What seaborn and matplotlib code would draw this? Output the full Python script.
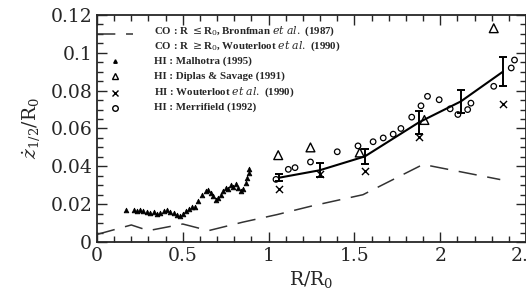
import numpy as np
import pandas as pd
import seaborn as sns
import matplotlib.pyplot as plt
from matplotlib.ticker import MultipleLocator

# CO dashed curve (Bronfman R<=R0 + Wouterloot R>=R0)
co_r = [0.0, 0.2, 0.3, 0.5, 0.65, 0.85, 1.05, 1.25, 1.55, 1.9, 2.35]
co_z = [0.004, 0.009, 0.006, 0.0095, 0.006, 0.0105, 0.0145, 0.019, 0.025, 0.041, 0.033]

# HI : Malhotra (1995)
mal_r = [0.170, 0.213, 0.232, 0.252, 0.271, 0.291, 0.310, 0.330, 0.350, 0.369,
         0.388, 0.408, 0.428, 0.447, 0.467, 0.486, 0.502, 0.516, 0.535, 0.555,
         0.574, 0.590, 0.613, 0.633, 0.646, 0.662, 0.678, 0.691, 0.705, 0.720,
         0.736, 0.750, 0.763, 0.779, 0.795, 0.808, 0.822, 0.838, 0.853, 0.867,
         0.877, 0.883, 0.887]
mal_z = [0.0171, 0.0167, 0.0162, 0.0171, 0.0165, 0.0158, 0.0153, 0.0156, 0.0148, 0.0153,
         0.0162, 0.0167, 0.0160, 0.0153, 0.0144, 0.0135, 0.0149, 0.0162, 0.0174, 0.0185,
         0.0185, 0.0218, 0.0250, 0.0268, 0.0277, 0.0260, 0.0242, 0.0224, 0.0234, 0.0250,
         0.0268, 0.0286, 0.0280, 0.0299, 0.0292, 0.0304, 0.0286, 0.0268, 0.0280, 0.0313,
         0.0340, 0.0366, 0.0384]

# HI : Diplas & Savage (1991)
dip_r = [1.056, 1.244, 1.531, 1.908, 2.312]
dip_z = [0.0459, 0.0500, 0.0473, 0.0645, 0.1130]

# HI : Wouterloot et al. (1990)
wou_r = [1.062, 1.300, 1.564, 1.877, 2.365]
wou_z = [0.0281, 0.0360, 0.0375, 0.0553, 0.0727]

# HI : Merrifield (1992)
mer_r = [1.043, 1.115, 1.154, 1.244, 1.400, 1.521, 1.609, 1.668, 1.726, 1.771,
         1.834, 1.888, 1.926, 1.994, 2.058, 2.103, 2.160, 2.179, 2.312, 2.414, 2.433]
mer_z = [0.0331, 0.0384, 0.0393, 0.0423, 0.0477, 0.0508, 0.0530, 0.0550, 0.0570, 0.0600,
         0.0660, 0.0720, 0.0770, 0.0752, 0.0704, 0.0674, 0.0700, 0.0734, 0.0823, 0.0920, 0.0962]

# mean with error bars
mean_r = [1.062, 1.297, 1.560, 1.877, 2.120, 2.365]
mean_z = [0.0340, 0.0379, 0.0452, 0.0633, 0.0743, 0.0900]
mean_err = [0.0020, 0.0037, 0.0040, 0.0062, 0.0062, 0.0077]

sns.set_style('ticks')
plt.rcParams['font.family'] = ['DejaVu Serif']
plt.rcParams['mathtext.fontset'] = 'dejavuserif'

fig = plt.figure(figsize=(5.26, 2.94), dpi=100)
ax = fig.add_axes([0.1844, 0.1769, 0.8156, 0.7721])

sns.lineplot(x=co_r, y=co_z, ax=ax, color='#333333', lw=1.1, linestyle=(0, (12, 7)))
sns.lineplot(x=mean_r, y=mean_z, ax=ax, color='black', lw=1.5)
ax.errorbar(mean_r, mean_z, yerr=mean_err, fmt='none', ecolor='black',
            elinewidth=1.4, capsize=3, capthick=1.4)

sns.scatterplot(x=mal_r, y=mal_z, ax=ax, marker='^', s=11, color='black',
                edgecolor='black', linewidth=0.6)
sns.scatterplot(x=dip_r, y=dip_z, ax=ax, marker='^', s=40, facecolor='none',
                edgecolor='black', linewidth=1.0)
sns.scatterplot(x=wou_r, y=wou_z, ax=ax, marker='x', s=26, color='black', linewidth=1.0)
sns.scatterplot(x=mer_r, y=mer_z, ax=ax, marker='o', s=16, facecolor='none',
                edgecolor='black', linewidth=0.9)

ax.set_xlim(0, 2.5)
ax.set_ylim(0, 0.12)
ax.xaxis.set_minor_locator(MultipleLocator(0.1))
ax.yaxis.set_minor_locator(MultipleLocator(0.005))
ax.set_xticks([0, 0.5, 1, 1.5, 2, 2.5], ['0', '0.5', '1', '1.5', '2', '2.5'])
ax.set_yticks([0, 0.02, 0.04, 0.06, 0.08, 0.1, 0.12],
              ['0', '0.02', '0.04', '0.06', '0.08', '0.1', '0.12'])
ax.tick_params(which='both', direction='in', top=True, right=True, labelsize=13.5, width=1.0)
ax.tick_params(which='major', length=7)
ax.tick_params(which='minor', length=4)
for sp in ax.spines.values():
    sp.set_linewidth(1.3)

ax.set_xlabel(r'R/R$_0$', fontsize=13.5, labelpad=3)
ax.set_ylabel(r'$\dot{z}_{1/2}/\mathrm{R}_0$', fontsize=13.5, labelpad=5)

# legend drawn by hand
leg_y = [0.1115, 0.1035, 0.0955, 0.0875, 0.0790, 0.0710]
leg_txt = [r'CO : R $\leq$R$_0$, Bronfman $\it{et\ al.}$ (1987)',
           r'CO : R $\geq$R$_0$, Wouterloot $\it{et\ al.}$ (1990)',
           'HI : Malhotra (1995)',
           'HI : Diplas & Savage (1991)',
           r'HI : Wouterloot $\it{et\ al.}$ (1990)',
           'HI : Merrifield (1992)']
ax.plot([0.0, 0.21], [0.110, 0.110], color='#333333', lw=1.1, linestyle=(0, (12, 7)))
ax.plot([0.105], [leg_y[2]], marker='^', ms=2.5, color='black', ls='none')
ax.plot([0.105], [leg_y[3]], marker='^', ms=5, mfc='none', mec='black', ls='none')
ax.plot([0.105], [leg_y[4]], marker='x', ms=4, color='black', ls='none')
ax.plot([0.105], [leg_y[5]], marker='o', ms=4, mfc='none', mec='black', ls='none')
for yy, t in zip(leg_y, leg_txt):
    ax.text(0.33, yy, t, fontsize=7.8, fontweight='bold', family='Liberation Serif',
            va='center', ha='left')

fig.savefig('out.png', dpi=100)
